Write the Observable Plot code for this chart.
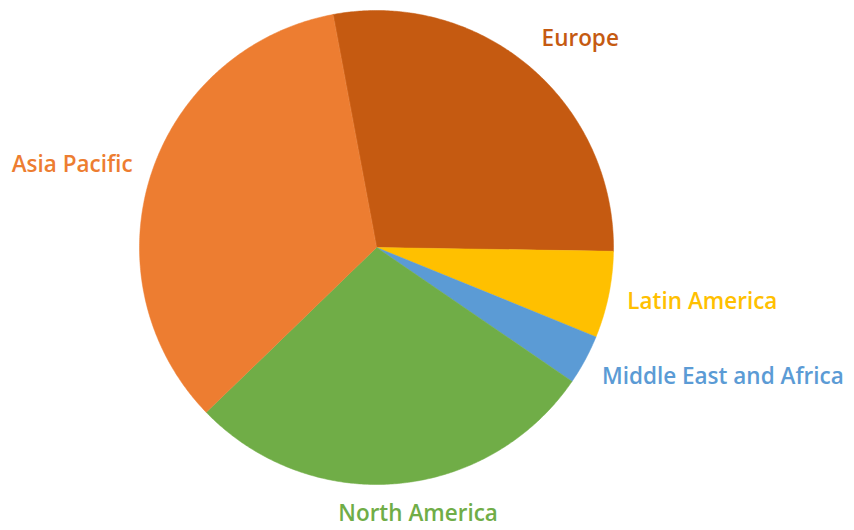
<!DOCTYPE html>
<html><head><meta charset="utf-8">
<script src="https://cdn.jsdelivr.net/npm/d3@7"></script>
<script src="https://cdn.jsdelivr.net/npm/@observablehq/plot@0.6"></script>
<style>body{margin:0;background:#fff}</style>
</head><body><div id="chart"></div>
<script>
const regions = ["Europe", "Latin America", "Middle East and Africa", "North America", "Asia Pacific"];
const shares = [28.2, 5.9, 3.4, 28.2, 34.3];
const colors = ["#C55A11", "#FFC000", "#5B9BD5", "#70AD47", "#ED7D31"];
const startAngleDeg = -10.6;

const data = regions.map((r, i) => ({region: r, share: shares[i]}));
const a0 = startAngleDeg * Math.PI / 180;
const arcs = d3.pie().sort(null).value(d => d.share).startAngle(a0).endAngle(a0 + 2 * Math.PI)(data);

const outline = [];
arcs.forEach(a => {
  const n = Math.max(2, Math.ceil((a.endAngle - a.startAngle) / (Math.PI / 360)));
  outline.push({region: a.data.region, x: 0, y: 0});
  for (let k = 0; k <= n; k++) {
    const t = a.startAngle + (a.endAngle - a.startAngle) * k / n;
    outline.push({region: a.data.region, x: Math.sin(t), y: Math.cos(t)});
  }
});

const labels = arcs.map(a => {
  const m = (a.startAngle + a.endAngle) / 2;
  return {region: a.data.region, x: 1.08 * Math.sin(m), y: 1.15 * Math.cos(m), s: Math.sin(m)};
});

const textOpts = {x: "x", y: "y", text: "region", fill: "region", fontFamily: "Open Sans", fontWeight: 600, fontSize: 22.5, lineAnchor: "middle"};

const chart = Plot.plot({
  width: 854, height: 530,
  marginLeft: 139, marginRight: 241, marginTop: 10, marginBottom: 46,
  x: {domain: [-1, 1], axis: null},
  y: {domain: [-1, 1], axis: null},
  color: {domain: regions, range: colors},
  marks: [
    Plot.line(outline, {x: "x", y: "y", z: "region", fill: "region", stroke: "region", strokeWidth: 0.5, curve: "linear-closed"}),
    Plot.text(labels.filter(d => d.s > 0.3), {...textOpts, textAnchor: "start"}),
    Plot.text(labels.filter(d => d.s < -0.3), {...textOpts, textAnchor: "end"}),
    Plot.text(labels.filter(d => Math.abs(d.s) <= 0.3), {...textOpts, textAnchor: "middle", dx: 20, dy: -5})
  ]
});
document.getElementById("chart").appendChild(chart);
</script>
</body></html>
